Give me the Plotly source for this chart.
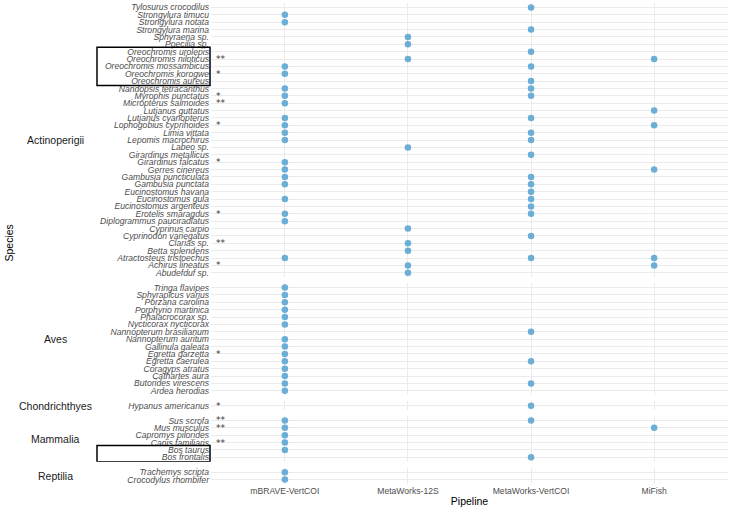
import plotly.graph_objects as go
from plotly.subplots import make_subplots

# categorias del eje x
pipelines = ["mBRAVE-VertCOI", "MetaWorks-12S", "MetaWorks-VertCOI", "MiFish"]

# especies por clase (orden de arriba hacia abajo)
actinopterigii = ["Tylosurus crocodilus", "Strongylura timucu", "Strongylura notata", "Strongylura marina",
                  "Sphyraena sp.", "Poecilia sp.", "Oreochromis urolepis", "Oreochromis niloticus",
                  "Oreochromis mossambicus", "Oreochromis korogwe", "Oreochromis aureus",
                  "Nandopsis tetracanthus", "Myrophis punctatus", "Micropterus salmoides",
                  "Lutjanus guttatus", "Lutjanus cyanopterus", "Lophogobius cyprinoides", "Limia vittata",
                  "Lepomis macrochirus", "Labeo sp.", "Girardinus metallicus", "Girardinus falcatus",
                  "Gerres cinereus", "Gambusia puncticulata", "Gambusia punctata", "Eucinostomus havana",
                  "Eucinostomus gula", "Eucinostomus argenteus", "Erotelis smaragdus",
                  "Diplogrammus pauciradiatus", "Cyprinus carpio", "Cyprinodon variegatus", "Clarias sp.",
                  "Betta splendens", "Atractosteus tristoechus", "Achirus lineatus", "Abudefduf sp."]
aves = ["Tringa flavipes", "Sphyrapicus varius", "Porzana carolina", "Porphyrio martinica",
        "Phalacrocorax sp.", "Nycticorax nycticorax", "Nannopterum brasilianum", "Nannopterum auritum",
        "Gallinula galeata", "Egretta garzetta", "Egretta caerulea", "Coragyps atratus",
        "Cathartes aura", "Butorides virescens", "Ardea herodias"]
chondrichthyes = ["Hypanus americanus"]
mammalia = ["Sus scrofa", "Mus musculus", "Capromys pilorides", "Canis familiaris", "Bos taurus", "Bos frontalis"]
reptilia = ["Trachemys scripta", "Crocodylus rhombifer"]

class_names = ["Actinoperigii", "Aves", "Chondrichthyes", "Mammalia", "Reptilia"]
class_species = [actinopterigii, aves, chondrichthyes, mammalia, reptilia]

# detecciones por pipeline
mbrave_vertcoi = ["Strongylura timucu", "Strongylura notata", "Oreochromis mossambicus", "Oreochromis korogwe",
                  "Nandopsis tetracanthus", "Myrophis punctatus", "Micropterus salmoides",
                  "Lutjanus cyanopterus", "Lophogobius cyprinoides", "Limia vittata", "Lepomis macrochirus",
                  "Girardinus falcatus", "Gerres cinereus", "Gambusia puncticulata", "Gambusia punctata",
                  "Eucinostomus gula", "Erotelis smaragdus", "Diplogrammus pauciradiatus",
                  "Atractosteus tristoechus",
                  "Tringa flavipes", "Sphyrapicus varius", "Porzana carolina", "Porphyrio martinica",
                  "Phalacrocorax sp.", "Nycticorax nycticorax", "Nannopterum auritum", "Gallinula galeata",
                  "Egretta garzetta", "Egretta caerulea", "Coragyps atratus", "Cathartes aura",
                  "Butorides virescens", "Ardea herodias",
                  "Sus scrofa", "Mus musculus", "Capromys pilorides", "Canis familiaris", "Bos taurus",
                  "Trachemys scripta", "Crocodylus rhombifer"]
metaworks_12s = ["Sphyraena sp.", "Poecilia sp.", "Oreochromis niloticus", "Labeo sp.", "Cyprinus carpio",
                 "Clarias sp.", "Betta splendens", "Achirus lineatus", "Abudefduf sp."]
metaworks_vertcoi = ["Tylosurus crocodilus", "Strongylura marina", "Oreochromis urolepis",
                     "Oreochromis mossambicus", "Oreochromis aureus", "Nandopsis tetracanthus",
                     "Myrophis punctatus", "Lutjanus cyanopterus", "Limia vittata", "Lepomis macrochirus",
                     "Girardinus metallicus", "Gambusia puncticulata", "Gambusia punctata",
                     "Eucinostomus havana", "Eucinostomus gula", "Eucinostomus argenteus",
                     "Erotelis smaragdus", "Cyprinodon variegatus", "Atractosteus tristoechus",
                     "Nannopterum brasilianum", "Egretta caerulea", "Butorides virescens",
                     "Hypanus americanus", "Sus scrofa", "Bos frontalis"]
mifish = ["Oreochromis niloticus", "Lutjanus guttatus", "Lophogobius cyprinoides", "Gerres cinereus",
          "Atractosteus tristoechus", "Achirus lineatus", "Mus musculus"]
detections = [mbrave_vertcoi, metaworks_12s, metaworks_vertcoi, mifish]

# marcas de asteriscos
one_star = ["Oreochromis korogwe", "Myrophis punctatus", "Lophogobius cyprinoides", "Girardinus falcatus",
            "Erotelis smaragdus", "Achirus lineatus", "Egretta garzetta", "Hypanus americanus"]
two_star = ["Oreochromis niloticus", "Micropterus salmoides", "Clarias sp.", "Sus scrofa",
            "Mus musculus", "Canis familiaris"]

# grupos recuadrados (clase, primera especie, ultima especie)
boxed = [(0, "Oreochromis urolepis", "Oreochromis aureus"), (3, "Bos taurus", "Bos frontalis")]

W, H = 729, 514
ML, MR, MT, MB = 211, 1, 3, 30
pw = W - ML - MR

heights = [len(s) + 0.2 for s in class_species]
fig = make_subplots(rows=5, cols=1, shared_xaxes=True, row_heights=heights, vertical_spacing=0.0125)

for i, species in enumerate(class_species):
    xs, ys = [], []
    for p, det in zip(pipelines, detections):
        for s in species:
            if s in det:
                xs.append(p)
                ys.append(s)
    fig.add_trace(go.Scatter(x=xs, y=ys, mode="markers", showlegend=False,
                             marker=dict(color="#6BAED6", size=6.5)), row=i + 1, col=1)
    order = species[::-1]
    fig.update_yaxes(type="category", categoryorder="array", categoryarray=order,
                     tickmode="array", tickvals=order, ticktext=order,
                     range=[-0.6, len(order) - 0.4], row=i + 1, col=1)
    yname = "y" if i == 0 else "y%d" % (i + 1)
    # etiqueta de la clase
    fig.add_annotation(text=class_names[i], xref="paper", yref=yname + " domain", x=(55 - ML) / pw, y=0.5,
                       xanchor="center", yanchor="middle", showarrow=False,
                       font=dict(size=10.5, color="#1A1A1A"))
    # asteriscos
    for s in species:
        mark = "**" if s in two_star else ("*" if s in one_star else None)
        if mark:
            fig.add_annotation(text=mark, xref="paper", yref=yname, x=3 / pw, y=s,
                               xanchor="left", yanchor="middle", showarrow=False,
                               font=dict(family="DejaVu Sans", size=9, color="#333333"))

for ci, first, last in boxed:
    order = class_species[ci][::-1]
    yname = "y" if ci == 0 else "y%d" % (ci + 1)
    a, b = order.index(first), order.index(last)
    fig.add_shape(type="rect", xref="paper", yref=yname, x0=(97 - ML) / pw, x1=-1 / pw,
                  y0=min(a, b) - 0.6, y1=max(a, b) + 0.6, line=dict(color="black", width=1.5))

fig.update_yaxes(showgrid=True, gridcolor="#EBEBEB", gridwidth=1, zeroline=False, ticks="",
                 ticklabelstandoff=1,
                 tickfont=dict(family="Liberation Sans", size=8.6, color="#4D4D4D", style="italic"),
                 showline=False)
fig.update_xaxes(type="category", categoryorder="array", categoryarray=pipelines, range=[-0.6, 3.6],
                 showgrid=True, gridcolor="#EBEBEB", gridwidth=1, zeroline=False, ticks="", showline=False,
                 tickfont=dict(family="Liberation Sans", size=8.6, color="#4D4D4D"))
fig.update_xaxes(title=dict(text="Pipeline", font=dict(size=10.5, color="black"), standoff=3), row=5, col=1)

fig.add_annotation(text="Species", xref="paper", yref="paper", x=(8 - ML) / pw, y=0.5, textangle=-90,
                   xanchor="center", yanchor="middle", showarrow=False, font=dict(size=10.5, color="black"))

fig.update_layout(width=W, height=H, margin=dict(l=ML, r=MR, t=MT, b=MB),
                  plot_bgcolor="white", paper_bgcolor="white",
                  font=dict(family="Liberation Sans"))

fig.write_html("out.html", config={"displayModeBar": False},
               post_script="document.body.style.margin='0';")
